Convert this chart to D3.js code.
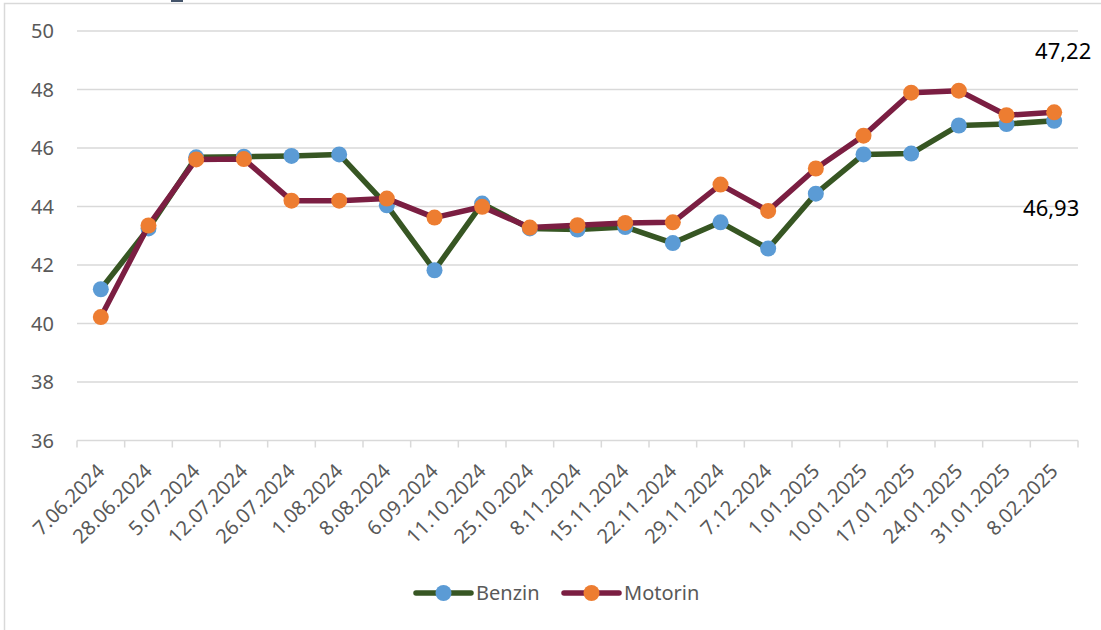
<!DOCTYPE html>
<html>
<head>
<meta charset="utf-8">
<script src="https://cdn.jsdelivr.net/npm/d3@7"></script>
<style>
  body { margin: 0; background: #fff; }
  svg { display: block; font-family: "Noto Sans", "Open Sans", sans-serif; }
</style>
</head>
<body>
<svg id="chart" width="1101" height="630"></svg>
<script>
"use strict";

// data
const dates = ["7.06.2024", "28.06.2024", "5.07.2024", "12.07.2024", "26.07.2024",
  "1.08.2024", "8.08.2024", "6.09.2024", "11.10.2024", "25.10.2024", "8.11.2024",
  "15.11.2024", "22.11.2024", "29.11.2024", "7.12.2024", "1.01.2025", "10.01.2025",
  "17.01.2025", "24.01.2025", "31.01.2025", "8.02.2025"];

const benzin = [41.17, 43.25, 45.68, 45.70, 45.73, 45.78, 44.04, 41.82, 44.10, 43.25,
  43.21, 43.30, 42.75, 43.46, 42.56, 44.44, 45.78, 45.81, 46.77, 46.82, 46.93];

const motorin = [40.22, 43.35, 45.61, 45.62, 44.20, 44.20, 44.27, 43.62, 43.99, 43.28,
  43.36, 43.44, 43.46, 44.75, 43.85, 45.30, 46.42, 47.89, 47.96, 47.12, 47.22];

const yTicks = [36, 38, 40, 42, 44, 46, 48, 50];

const seriesList = [
  { name: "Benzin", values: benzin, line: "#375623", dot: "#5B9BD5" },
  { name: "Motorin", values: motorin, line: "#7B1E42", dot: "#ED7D31" }
];


const svg = d3.select("#chart");

    // chart frame
svg.append("rect")
    .attr("x", 4.5).attr("y", 3.5)
    .attr("width", 1110).attr("height", 640)
    .attr("fill", "none")
    .attr("stroke", "#d9d9d9")
    .attr("stroke-width", 1.5);

svg.append("rect")
    .attr("x", 171).attr("y", 0)
    .attr("width", 12).attr("height", 2)
    .attr("fill", "#44546a");


const x = d3.scaleBand()
    .domain(dates)
    .range([77, 1078]);

const y = d3.scaleLinear()
    .domain([36, 50])
    .range([440.5, 31]);


    // gridlines
svg.append("g")
    .selectAll("line")
    .data(yTicks.filter(d => d > 36))
    .join("line")
        .attr("x1", 77).attr("x2", 1078)
        .attr("y1", d => y(d)).attr("y2", d => y(d))
        .attr("stroke", "#d9d9d9")
        .attr("stroke-width", 1.5);


    // y axis labels
svg.append("g")
    .selectAll("text")
    .data(yTicks)
    .join("text")
        .attr("x", 54)
        .attr("y", d => y(d))
        .attr("dy", "0.36em")
        .attr("text-anchor", "end")
        .attr("fill", "#595959")
        .style("font-size", "20px")
        .text(d => d);


    // x axis
const xAxis = svg.append("g")
    .attr("transform", "translate(0," + y(36) + ")");

xAxis.append("line")
    .attr("x1", 77).attr("x2", 1078)
    .attr("stroke", "#d9d9d9")
    .attr("stroke-width", 1.5);

xAxis.selectAll("line.tick")
    .data(dates.concat([null]))
    .join("line")
        .attr("class", "tick")
        .attr("x1", (d, i) => 77 + i * x.step())
        .attr("x2", (d, i) => 77 + i * x.step())
        .attr("y1", 0).attr("y2", 7)
        .attr("stroke", "#d9d9d9")
        .attr("stroke-width", 1.5);

xAxis.selectAll("text")
    .data(dates)
    .join("text")
        .attr("transform", d => "translate(" + (x(d) + x.bandwidth() / 2) + ",27) rotate(-45)")
        .attr("text-anchor", "end")
        .attr("dy", "0.35em")
        .attr("fill", "#595959")
        .style("font-size", "20px")
        .text(d => d);


    // series
const line = d3.line()
    .x((d, i) => x(dates[i]) + x.bandwidth() / 2)
    .y(d => y(d));

seriesList.forEach(s => {

    svg.append("path")
        .datum(s.values)
        .attr("d", line)
        .attr("fill", "none")
        .attr("stroke", s.line)
        .attr("stroke-width", 5.5)
        .attr("stroke-linejoin", "round");

    svg.append("g")
        .selectAll("circle")
        .data(s.values)
        .join("circle")
            .attr("cx", (d, i) => x(dates[i]) + x.bandwidth() / 2)
            .attr("cy", d => y(d))
            .attr("r", 8)
            .attr("fill", s.dot);
});


    // end labels
const last = dates.length - 1;
const lastX = x(dates[last]) + x.bandwidth() / 2;

svg.append("text")
    .attr("x", lastX + 9)
    .attr("y", y(motorin[last]) - 61)
    .attr("dy", "0.36em")
    .attr("text-anchor", "middle")
    .attr("fill", "#000")
    .style("font-size", "22px")
    .text(motorin[last].toFixed(2).replace(".", ","));

svg.append("text")
    .attr("x", lastX - 3)
    .attr("y", y(benzin[last]) + 87)
    .attr("dy", "0.36em")
    .attr("text-anchor", "middle")
    .attr("fill", "#000")
    .style("font-size", "22px")
    .text(benzin[last].toFixed(2).replace(".", ","));


    // legend
const legend = svg.append("g")
    .attr("transform", "translate(416,593)");

seriesList.forEach((s, i) => {

    const g = legend.append("g")
        .attr("transform", "translate(" + (i * 148) + ",0)");

    g.append("line")
        .attr("x1", 0).attr("x2", 55)
        .attr("stroke", s.line)
        .attr("stroke-width", 5.5)
        .attr("stroke-linecap", "round");

    g.append("circle")
        .attr("cx", 27.5)
        .attr("r", 8)
        .attr("fill", s.dot);

    g.append("text")
        .attr("x", 60)
        .attr("dy", "0.36em")
        .attr("fill", "#595959")
        .style("font-size", "20px")
        .text(s.name);
});

</script>
</body>
</html>
